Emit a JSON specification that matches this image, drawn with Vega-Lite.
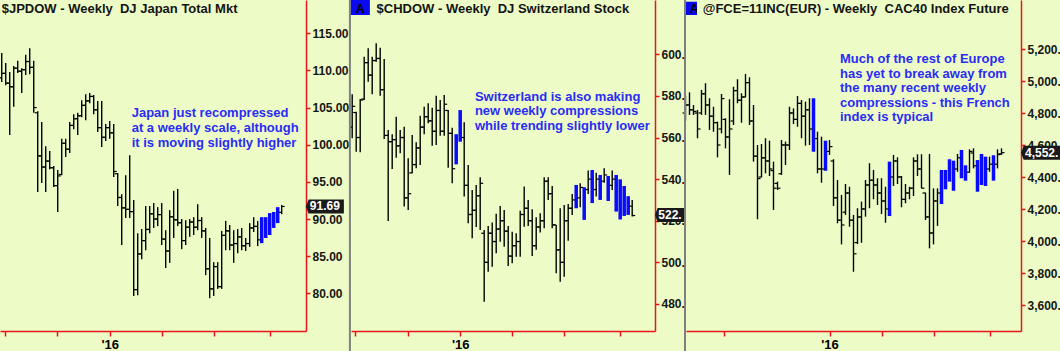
{
  "$schema": "https://vega.github.io/schema/vega-lite/v6.json",
  "width": 1021,
  "height": 331,
  "autosize": {"type": "none"},
  "padding": {"left": 0, "top": 0, "right": 39, "bottom": 20},
  "background": "#EDFCC6",
  "config": {
    "view": {"stroke": null},
    "axis": {"grid": false, "domainColor": "#e8141b", "tickColor": "#e8141b", "domainWidth": 1.5, "tickWidth": 1.5, "labelFont": "Liberation Sans", "labelFontWeight": "bold", "labelFontSize": 12, "labelColor": "#161616"},
    "text": {"font": "Liberation Sans"}
  },
  "datasets": {
    "p1": [
      {"w":-27,"h":112.35,"l":108.45,"o":109.0,"c":109.6,"b":0},
      {"w":-26,"h":111.0,"l":108.0,"o":109.6,"c":108.3,"b":0},
      {"w":-25,"h":109.8,"l":101.3,"o":108.3,"c":107.8,"b":0},
      {"w":-24,"h":110.6,"l":105.1,"o":107.8,"c":110.3,"b":0},
      {"w":-23,"h":111.3,"l":109.65,"o":110.3,"c":109.9,"b":0},
      {"w":-22,"h":110.3,"l":106.95,"o":109.9,"c":110.1,"b":0},
      {"w":-21,"h":112.1,"l":109.4,"o":110.1,"c":111.2,"b":0},
      {"w":-20,"h":113.0,"l":109.5,"o":111.2,"c":110.4,"b":0},
      {"w":-19,"h":111.3,"l":104.3,"o":110.4,"c":105.0,"b":0},
      {"w":-18,"h":104.5,"l":93.65,"o":104.3,"c":98.5,"b":0},
      {"w":-17,"h":103.05,"l":94.85,"o":98.5,"c":97.0,"b":0},
      {"w":-16,"h":99.8,"l":93.65,"o":97.0,"c":97.8,"b":0},
      {"w":-15,"h":99.15,"l":96.7,"o":97.8,"c":96.9,"b":0},
      {"w":-14,"h":97.15,"l":94.3,"o":96.9,"c":94.5,"b":0},
      {"w":-13,"h":96.6,"l":90.95,"o":94.5,"c":95.8,"b":0},
      {"w":-12,"h":100.8,"l":95.9,"o":96.0,"c":100.2,"b":0},
      {"w":-11,"h":100.8,"l":98.35,"o":100.2,"c":99.4,"b":0},
      {"w":-10,"h":103.05,"l":98.9,"o":99.4,"c":102.6,"b":0},
      {"w":-9,"h":104.1,"l":102.1,"o":102.6,"c":103.5,"b":0},
      {"w":-8,"h":104.3,"l":101.3,"o":103.5,"c":103.9,"b":0},
      {"w":-7,"h":106.0,"l":103.7,"o":103.9,"c":105.3,"b":0},
      {"w":-6,"h":106.8,"l":103.3,"o":105.3,"c":105.9,"b":0},
      {"w":-5,"h":106.95,"l":105.6,"o":105.9,"c":106.5,"b":0},
      {"w":-4,"h":106.7,"l":104.1,"o":106.5,"c":104.7,"b":0},
      {"w":-3,"h":105.9,"l":101.7,"o":104.7,"c":102.3,"b":0},
      {"w":-2,"h":105.9,"l":99.7,"o":102.3,"c":101.0,"b":0},
      {"w":-1,"h":102.8,"l":100.5,"o":101.0,"c":102.3,"b":0},
      {"w":0,"h":103.2,"l":100.8,"o":102.3,"c":101.6,"b":0},
      {"w":1,"h":102.8,"l":95.65,"o":101.6,"c":96.4,"b":0},
      {"w":2,"h":96.2,"l":91.75,"o":96.1,"c":92.9,"b":0},
      {"w":3,"h":93.35,"l":86.5,"o":92.9,"c":91.5,"b":0},
      {"w":4,"h":95.9,"l":90.15,"o":91.5,"c":91.3,"b":0},
      {"w":5,"h":98.6,"l":90.15,"o":91.3,"c":91.0,"b":0},
      {"w":6,"h":92.55,"l":79.65,"o":91.0,"c":80.5,"b":0},
      {"w":7,"h":88.1,"l":79.75,"o":80.5,"c":85.3,"b":0},
      {"w":8,"h":88.65,"l":84.6,"o":85.3,"c":87.1,"b":0},
      {"w":9,"h":91.75,"l":85.8,"o":87.1,"c":88.6,"b":0},
      {"w":10,"h":91.75,"l":88.1,"o":88.6,"c":90.7,"b":0},
      {"w":11,"h":92.15,"l":88.8,"o":90.7,"c":90.0,"b":0},
      {"w":12,"h":91.6,"l":89.05,"o":90.0,"c":90.6,"b":0},
      {"w":13,"h":92.15,"l":86.5,"o":90.6,"c":87.3,"b":0},
      {"w":14,"h":88.5,"l":83.4,"o":87.3,"c":85.7,"b":0},
      {"w":15,"h":91.2,"l":84.1,"o":85.7,"c":90.3,"b":0},
      {"w":16,"h":93.8,"l":87.45,"o":90.3,"c":89.9,"b":0},
      {"w":17,"h":94.05,"l":89.05,"o":89.9,"c":89.5,"b":0},
      {"w":18,"h":90.0,"l":85.95,"o":89.5,"c":87.1,"b":0},
      {"w":19,"h":89.85,"l":86.5,"o":87.1,"c":88.9,"b":0},
      {"w":20,"h":90.0,"l":87.6,"o":88.9,"c":89.6,"b":0},
      {"w":21,"h":90.25,"l":87.85,"o":89.6,"c":88.9,"b":0},
      {"w":22,"h":92.0,"l":88.5,"o":88.9,"c":89.8,"b":0},
      {"w":23,"h":90.25,"l":87.45,"o":89.8,"c":88.4,"b":0},
      {"w":24,"h":88.8,"l":82.45,"o":88.4,"c":83.3,"b":0},
      {"w":25,"h":87.45,"l":79.35,"o":83.3,"c":80.6,"b":0},
      {"w":26,"h":84.2,"l":79.65,"o":80.6,"c":83.6,"b":0},
      {"w":27,"h":84.2,"l":80.6,"o":83.6,"c":80.9,"b":0},
      {"w":28,"h":88.4,"l":80.6,"o":80.9,"c":87.8,"b":0},
      {"w":29,"h":89.75,"l":85.8,"o":87.8,"c":88.4,"b":0},
      {"w":30,"h":89.2,"l":85.8,"o":88.4,"c":86.5,"b":0},
      {"w":31,"h":88.5,"l":84.1,"o":86.5,"c":86.7,"b":0},
      {"w":32,"h":88.65,"l":85.4,"o":86.7,"c":87.6,"b":0},
      {"w":33,"h":88.8,"l":85.8,"o":87.6,"c":86.4,"b":0},
      {"w":34,"h":87.45,"l":85.7,"o":86.4,"c":86.7,"b":0},
      {"w":35,"h":89.45,"l":86.25,"o":86.7,"c":88.8,"b":0},
      {"w":36,"h":90.25,"l":88.25,"o":88.8,"c":89.0,"b":0},
      {"w":37,"h":89.75,"l":86.35,"o":89.0,"c":87.2,"b":0},
      {"w":38,"h":90.25,"l":86.75,"b":1},
      {"w":39,"h":90.25,"l":87.45,"b":1},
      {"w":40,"h":90.8,"l":87.85,"b":1},
      {"w":41,"h":90.95,"l":88.8,"b":1},
      {"w":42,"h":91.6,"l":89.45,"b":1},
      {"w":43,"h":91.9,"l":90.65,"o":90.9,"c":91.69,"b":0}
    ],
    "a1": [
      {"k":"title","w":-27.0,"v":117.69,"t":"$JPDOW - Weekly \u00a0DJ Japan Total Mkt"},
      {"k":"note","w":5.5,"v":103.69,"t":"Japan just recompressed"},
      {"k":"note","w":5.5,"v":101.71,"t":"at a weekly scale, although"},
      {"k":"note","w":5.5,"v":99.73,"t":"it is moving slightly higher"},
      {"k":"last","w":53.8,"v":91.69,"t":"91.69"}
    ],
    "p2": [
      {"w":-27,"h":580.8,"l":559.6,"o":565,"c":575,"b":0},
      {"w":-26,"h":572.4,"l":553.2,"o":572,"c":560,"b":0},
      {"w":-25,"h":578.5,"l":552.9,"o":560,"c":578,"b":0},
      {"w":-24,"h":598.8,"l":578.0,"o":578.5,"c":596,"b":0},
      {"w":-23,"h":602.9,"l":586.8,"o":596,"c":590,"b":0},
      {"w":-22,"h":598.8,"l":580.8,"o":590,"c":597,"b":0},
      {"w":-21,"h":605.3,"l":596.4,"o":597,"c":598,"b":0},
      {"w":-20,"h":603.2,"l":580.1,"o":598,"c":583,"b":0},
      {"w":-19,"h":597.7,"l":559.3,"o":583,"c":561,"b":0},
      {"w":-18,"h":563.6,"l":519.9,"o":561,"c":558,"b":0},
      {"w":-17,"h":561.6,"l":544.9,"o":558,"c":559,"b":0},
      {"w":-16,"h":570.0,"l":550.3,"o":559,"c":556,"b":0},
      {"w":-15,"h":563.6,"l":552.4,"o":556,"c":560,"b":0},
      {"w":-14,"h":565.2,"l":526.8,"o":560,"c":531,"b":0},
      {"w":-13,"h":550.0,"l":525.2,"o":531,"c":533,"b":0},
      {"w":-12,"h":561.2,"l":542.8,"o":543,"c":547,"b":0},
      {"w":-11,"h":557.7,"l":545.2,"o":547,"c":555,"b":0},
      {"w":-10,"h":570.5,"l":546.8,"o":555,"c":565,"b":0},
      {"w":-9,"h":574.8,"l":561.6,"o":565,"c":570,"b":0},
      {"w":-8,"h":576.5,"l":566.8,"o":570,"c":568,"b":0},
      {"w":-7,"h":574.3,"l":556.1,"o":568,"c":563,"b":0},
      {"w":-6,"h":580.1,"l":556.4,"o":563,"c":573,"b":0},
      {"w":-5,"h":578.0,"l":560.9,"o":573,"c":563,"b":0},
      {"w":-4,"h":580.4,"l":560.9,"o":563,"c":576,"b":0},
      {"w":-3,"h":573.2,"l":545.5,"o":573,"c":562,"b":0},
      {"w":-2,"h":564.7,"l":538.0,"o":562,"c":545,"b":0},
      {"w":-1,"h":561.6,"l":547.1,"b":1},
      {"w":0,"h":573.2,"l":558.0,"b":1},
      {"w":1,"h":567.3,"l":531.6,"o":560,"c":537,"b":0},
      {"w":2,"h":546.8,"l":518.8,"o":537,"c":523,"b":0},
      {"w":3,"h":534.8,"l":511.6,"o":523,"c":525,"b":0},
      {"w":4,"h":537.2,"l":517.0,"o":525,"c":532,"b":0},
      {"w":5,"h":540.9,"l":515.6,"o":532,"c":538,"b":0},
      {"w":6,"h":515.6,"l":481.1,"o":514,"c":500,"b":0},
      {"w":7,"h":517.5,"l":495.5,"o":500,"c":514,"b":0},
      {"w":8,"h":519.1,"l":497.9,"o":514,"c":510,"b":0},
      {"w":9,"h":523.3,"l":504.4,"o":510,"c":516,"b":0},
      {"w":10,"h":527.1,"l":509.9,"o":516,"c":520,"b":0},
      {"w":11,"h":525.2,"l":507.5,"o":520,"c":515,"b":0},
      {"w":12,"h":517.5,"l":498.3,"o":515,"c":503,"b":0},
      {"w":13,"h":514.7,"l":499.6,"o":503,"c":508,"b":0},
      {"w":14,"h":514.0,"l":502.7,"o":508,"c":510,"b":0},
      {"w":15,"h":524.8,"l":502.7,"o":510,"c":523,"b":0},
      {"w":16,"h":536.4,"l":517.1,"o":523,"c":526,"b":0},
      {"w":17,"h":530.0,"l":517.5,"o":526,"c":520,"b":0},
      {"w":18,"h":525.5,"l":503.1,"o":520,"c":508,"b":0},
      {"w":19,"h":521.7,"l":506.0,"o":508,"c":517,"b":0},
      {"w":20,"h":523.6,"l":514.3,"o":517,"c":520,"b":0},
      {"w":21,"h":540.9,"l":516.4,"o":520,"c":539,"b":0},
      {"w":22,"h":540.9,"l":530.0,"o":539,"c":533,"b":0},
      {"w":23,"h":536.7,"l":516.4,"o":533,"c":518,"b":0},
      {"w":24,"h":518.0,"l":494.8,"o":518,"c":506,"b":0},
      {"w":25,"h":526.0,"l":490.7,"o":506,"c":500,"b":0},
      {"w":26,"h":527.6,"l":493.1,"o":500,"c":520,"b":0},
      {"w":27,"h":528.1,"l":510.4,"o":520,"c":526,"b":0},
      {"w":28,"h":532.9,"l":522.8,"o":526,"c":530,"b":0},
      {"w":29,"h":537.2,"l":526.0,"b":1},
      {"w":30,"h":538.0,"l":526.5,"o":531,"c":536,"b":0},
      {"w":31,"h":536.1,"l":520.4,"b":1},
      {"w":32,"h":544.1,"l":532.9,"o":535,"c":540,"b":0},
      {"w":33,"h":544.4,"l":528.5,"b":1},
      {"w":34,"h":543.1,"l":531.6,"o":535,"c":540,"b":0},
      {"w":35,"h":542.0,"l":530.0,"b":1},
      {"w":36,"h":545.2,"l":538.3,"o":539,"c":542,"b":0},
      {"w":37,"h":541.5,"l":529.5,"b":1},
      {"w":38,"h":544.1,"l":534.8,"o":537,"c":540,"b":0},
      {"w":39,"h":542.0,"l":524.4,"b":1},
      {"w":40,"h":539.9,"l":520.6,"b":1},
      {"w":41,"h":536.7,"l":522.3,"b":1},
      {"w":42,"h":531.8,"l":522.8,"b":1},
      {"w":43,"h":530.0,"l":522.0,"o":527,"c":522.5,"b":0}
    ],
    "a2": [
      {"k":"sep","w":-27.575,"v":626.1,"v2":457.4},
      {"k":"box","w":-27.33,"w2":-22.58,"v":626.1,"v2":618.9},
      {"k":"A","w":-24.95,"v":619.9,"t":"A"},
      {"k":"title","w":-20.9,"v":619.7,"t":"$CHDOW - Weekly \u00a0DJ Switzerland Stock"},
      {"k":"note","w":3.675,"v":577.7,"t":"Switzerland is also making"},
      {"k":"note","w":3.675,"v":570.8,"t":"new weekly compressions"},
      {"k":"note","w":3.675,"v":563.6,"t":"while trending slightly lower"},
      {"k":"last","w":52.45,"v":522.8,"t":"522."}
    ],
    "p3": [
      {"w":-36,"h":4906,"l":4752,"o":4800,"c":4850,"b":0},
      {"w":-35,"h":4929,"l":4788,"o":4850,"c":4820,"b":0},
      {"w":-34,"h":4850,"l":4788,"o":4820,"c":4810,"b":0},
      {"w":-33,"h":4819,"l":4642,"o":4800,"c":4700,"b":0},
      {"w":-32,"h":4944,"l":4788,"o":4800,"c":4920,"b":0},
      {"w":-31,"h":4986,"l":4788,"o":4920,"c":4850,"b":0},
      {"w":-30,"h":4892,"l":4694,"o":4850,"c":4780,"b":0},
      {"w":-29,"h":4839,"l":4683,"o":4780,"c":4740,"b":0},
      {"w":-28,"h":4746,"l":4523,"o":4740,"c":4600,"b":0},
      {"w":-27,"h":4919,"l":4673,"o":4700,"c":4890,"b":0},
      {"w":-26,"h":4767,"l":4579,"o":4760,"c":4650,"b":0},
      {"w":-25,"h":4886,"l":4413,"o":4650,"c":4700,"b":0},
      {"w":-24,"h":4964,"l":4725,"o":4750,"c":4940,"b":0},
      {"w":-23,"h":5011,"l":4861,"o":4940,"c":4880,"b":0},
      {"w":-22,"h":4923,"l":4739,"o":4880,"c":4900,"b":0},
      {"w":-21,"h":5044,"l":4898,"o":4900,"c":4990,"b":0},
      {"w":-20,"h":5023,"l":4725,"o":4990,"c":4750,"b":0},
      {"w":-19,"h":4850,"l":4496,"o":4750,"c":4530,"b":0},
      {"w":-18,"h":4600,"l":4136,"o":4530,"c":4390,"b":0},
      {"w":-17,"h":4606,"l":4398,"o":4400,"c":4520,"b":0},
      {"w":-16,"h":4642,"l":4423,"o":4520,"c":4500,"b":0},
      {"w":-15,"h":4627,"l":4406,"o":4500,"c":4450,"b":0},
      {"w":-14,"h":4496,"l":4194,"o":4440,"c":4330,"b":0},
      {"w":-13,"h":4371,"l":4319,"o":4360,"c":4330,"b":0},
      {"w":-12,"h":4631,"l":4413,"o":4420,"c":4600,"b":0},
      {"w":-11,"h":4621,"l":4475,"o":4600,"c":4600,"b":0},
      {"w":-10,"h":4839,"l":4569,"o":4600,"c":4800,"b":0},
      {"w":-9,"h":4829,"l":4731,"o":4800,"c":4760,"b":0},
      {"w":-8,"h":4906,"l":4714,"o":4760,"c":4860,"b":0},
      {"w":-7,"h":4881,"l":4642,"o":4860,"c":4780,"b":0},
      {"w":-6,"h":4871,"l":4596,"o":4780,"c":4820,"b":0},
      {"w":-5,"h":4892,"l":4600,"o":4820,"c":4700,"b":0},
      {"w":-4,"h":4892,"l":4558,"b":1},
      {"w":-3,"h":4683,"l":4423,"o":4640,"c":4450,"b":0},
      {"w":-2,"h":4652,"l":4364,"o":4450,"c":4450,"b":0},
      {"w":-1,"h":4627,"l":4439,"b":1},
      {"w":0,"h":4631,"l":4538,"o":4560,"c":4590,"b":0},
      {"w":1,"h":4511,"l":4219,"o":4500,"c":4270,"b":0},
      {"w":2,"h":4381,"l":4111,"o":4270,"c":4130,"b":0},
      {"w":3,"h":4288,"l":3979,"o":4130,"c":4100,"b":0},
      {"w":4,"h":4356,"l":4163,"o":4180,"c":4300,"b":0},
      {"w":5,"h":4339,"l":4089,"o":4300,"c":4130,"b":0},
      {"w":6,"h":4163,"l":3808,"o":4130,"c":3920,"b":0},
      {"w":7,"h":4205,"l":3981,"o":3990,"c":4150,"b":0},
      {"w":8,"h":4246,"l":3989,"o":4150,"c":4200,"b":0},
      {"w":9,"h":4381,"l":4152,"o":4200,"c":4350,"b":0},
      {"w":10,"h":4486,"l":4205,"o":4350,"c":4380,"b":0},
      {"w":11,"h":4444,"l":4261,"o":4380,"c":4350,"b":0},
      {"w":12,"h":4392,"l":4225,"o":4350,"c":4300,"b":0},
      {"w":13,"h":4392,"l":4169,"o":4300,"c":4250,"b":0},
      {"w":14,"h":4339,"l":4114,"o":4250,"c":4200,"b":0},
      {"w":15,"h":4496,"l":4156,"b":1},
      {"w":16,"h":4538,"l":4344,"o":4400,"c":4500,"b":0},
      {"w":17,"h":4523,"l":4356,"o":4500,"c":4400,"b":0},
      {"w":18,"h":4406,"l":4211,"o":4400,"c":4260,"b":0},
      {"w":19,"h":4356,"l":4236,"o":4260,"c":4300,"b":0},
      {"w":20,"h":4339,"l":4261,"o":4300,"c":4330,"b":0},
      {"w":21,"h":4523,"l":4281,"o":4330,"c":4500,"b":0},
      {"w":22,"h":4542,"l":4406,"o":4500,"c":4450,"b":0},
      {"w":23,"h":4542,"l":4329,"o":4450,"c":4330,"b":0},
      {"w":24,"h":4302,"l":4131,"o":4300,"c":4150,"b":0},
      {"w":25,"h":4544,"l":3954,"o":4150,"c":4050,"b":0},
      {"w":26,"h":4329,"l":3979,"o":4050,"c":4250,"b":0},
      {"w":27,"h":4329,"l":4094,"o":4250,"c":4300,"b":0},
      {"w":28,"h":4444,"l":4231,"b":1},
      {"w":29,"h":4444,"l":4323,"b":1},
      {"w":30,"h":4511,"l":4371,"b":1},
      {"w":31,"h":4502,"l":4314,"b":1},
      {"w":32,"h":4544,"l":4433,"o":4450,"c":4520,"b":0},
      {"w":33,"h":4569,"l":4392,"b":1},
      {"w":34,"h":4473,"l":4377,"b":1},
      {"w":35,"h":4573,"l":4427,"o":4430,"c":4560,"b":0},
      {"w":36,"h":4579,"l":4454,"o":4550,"c":4470,"b":0},
      {"w":37,"h":4506,"l":4308,"b":1},
      {"w":38,"h":4544,"l":4350,"b":1},
      {"w":39,"h":4527,"l":4344,"b":1},
      {"w":40,"h":4527,"l":4433,"o":4450,"c":4480,"b":0},
      {"w":41,"h":4536,"l":4377,"b":1},
      {"w":42,"h":4573,"l":4454,"o":4480,"c":4540,"b":0},
      {"w":43,"h":4579,"l":4538,"o":4545,"c":4552,"b":0}
    ],
    "a3": [
      {"k":"sep","w":-36.125,"v":5506.25,"v2":3312.5},
      {"k":"box","w":-35.875,"w2":-33.125,"v":5495.6,"v2":5412.5},
      {"k":"A","w":-33.8,"v":5423.1,"t":"A"},
      {"k":"mask","w":-33.125,"w2":46.375,"v":5506.25,"v2":5406.25},
      {"k":"title","w":-31.7,"v":5423.1,"t":"@FCE=11INC(EUR) - Weekly \u00a0CAC40 Index Futures"},
      {"k":"note","w":2.625,"v":5110.6,"t":"Much of the rest of Europe"},
      {"k":"note","w":2.625,"v":5020,"t":"has yet to break away from"},
      {"k":"note","w":2.625,"v":4929.4,"t":"the many recent weekly"},
      {"k":"note","w":2.625,"v":4838.75,"t":"compressions - this French"},
      {"k":"note","w":2.625,"v":4748.1,"t":"index is typical"},
      {"k":"lastbox","w":53.375,"v":4552,"t":""},
      {"k":"last","w":48.875,"v":4552,"t":"4,552."}
    ]
  },
  "resolve": {"scale": {"x": "independent", "y": "independent"}},
  "layer": [
    {
      "data": {"name": "p1"},
      "encoding": {
        "x": {"field": "w", "type": "quantitative", "title": null,
          "scale": {"domain": [-27.43, 49.08], "range": [0, 306], "zero": false, "nice": false},
          "axis": {"orient": "bottom", "values": [-26.3, -13.1, 0, 13, 26, 40], "labelExpr": "datum.value == 0 ? \"'16\" : ''", "tickSize": 5, "labelPadding": 2, "labelOverlap": false, "labelColor": "#000", "labelFontSize": 13}}
      },
      "layer": [
        {"transform": [{"filter": "datum.b == 0"}],
         "mark": {"type": "rule", "color": "#000", "strokeWidth": 1.4},
         "encoding": {
           "y": {"field": "h", "type": "quantitative", "title": null, "scale": {"domain": [74.93, 119.48], "zero": false, "nice": false},
             "axis": {"orient": "right", "offset": -715, "values": [80, 85, 90, 95, 100, 105, 110, 115], "format": ".2f", "tickSize": 4, "labelPadding": 2}},
           "y2": {"field": "l"}}},
        {"transform": [{"filter": "datum.b == 1"}],
         "mark": {"type": "rule", "color": "#0a0aff", "strokeWidth": 3.5},
         "encoding": {"y": {"field": "h", "type": "quantitative", "title": null, "scale": {"domain": [74.93, 119.48], "zero": false, "nice": false}}, "y2": {"field": "l"}}},
        {"mark": {"type": "tick", "orient": "horizontal", "size": 3, "thickness": 1.2, "xOffset": -1.5, "color": "#000", "opacity": 1},
         "encoding": {"y": {"field": "o", "type": "quantitative", "title": null, "scale": {"domain": [74.93, 119.48], "zero": false, "nice": false}}}},
        {"mark": {"type": "tick", "orient": "horizontal", "size": 3, "thickness": 1.2, "xOffset": 1.5, "color": "#000", "opacity": 1},
         "encoding": {"y": {"field": "c", "type": "quantitative", "title": null, "scale": {"domain": [74.93, 119.48], "zero": false, "nice": false}}}},
        {"data": {"name": "a1"}, "transform": [{"filter": "datum.k == 'title'"}],
         "mark": {"type": "text", "align": "left", "baseline": "alphabetic", "fontSize": 13, "fontWeight": "bold", "color": "#141414"},
         "encoding": {"y": {"field": "v", "type": "quantitative", "title": null, "scale": {"domain": [74.93, 119.48], "zero": false, "nice": false}}, "text": {"field": "t"}}},
        {"data": {"name": "a1"}, "transform": [{"filter": "datum.k == 'note'"}],
         "mark": {"type": "text", "align": "left", "baseline": "alphabetic", "fontSize": 13, "fontWeight": "bold", "color": "#2b2bf5"},
         "encoding": {"y": {"field": "v", "type": "quantitative", "title": null, "scale": {"domain": [74.93, 119.48], "zero": false, "nice": false}}, "text": {"field": "t"}}},
        {"data": {"name": "a1"}, "transform": [{"filter": "datum.k == 'last'"}],
         "mark": {"type": "point", "shape": "M-1,0L-0.86,-0.37L1,-0.37L1,0.37L-0.86,0.37Z", "size": 1444, "filled": true, "color": "#1a1a1a", "opacity": 1},
         "encoding": {"y": {"field": "v", "type": "quantitative", "title": null, "scale": {"domain": [74.93, 119.48], "zero": false, "nice": false}}}},
        {"data": {"name": "a1"}, "transform": [{"filter": "datum.k == 'last'"}],
         "mark": {"type": "text", "align": "center", "baseline": "middle", "fontSize": 12, "fontWeight": "bold", "color": "#ffffff"},
         "encoding": {"y": {"field": "v", "type": "quantitative", "title": null, "scale": {"domain": [74.93, 119.48], "zero": false, "nice": false}}, "text": {"field": "t"}}}
      ]
    },
    {
      "data": {"name": "p2"},
      "encoding": {
        "x": {"field": "w", "type": "quantitative", "title": null,
          "scale": {"domain": [-27.3, 48.7], "range": [351, 655], "zero": false, "nice": false},
          "axis": {"orient": "bottom", "values": [-26.3, -13.1, 0, 13, 26, 40], "labelExpr": "datum.value == 0 ? \"'16\" : ''", "tickSize": 5, "labelPadding": 2, "labelOverlap": false, "labelColor": "#000", "labelFontSize": 13}}
      },
      "layer": [
        {"transform": [{"filter": "datum.b == 0"}],
         "mark": {"type": "rule", "color": "#000", "strokeWidth": 1.4},
         "encoding": {
           "y": {"field": "h", "type": "quantitative", "title": null, "scale": {"domain": [467.0, 626.1], "zero": false, "nice": false},
             "axis": {"orient": "right", "offset": -366, "values": [480, 500, 520, 540, 560, 580, 600], "labelExpr": "format(datum.value, '.0f') + '.'", "tickSize": 4, "labelPadding": 2}},
           "y2": {"field": "l"}}},
        {"transform": [{"filter": "datum.b == 1"}],
         "mark": {"type": "rule", "color": "#0a0aff", "strokeWidth": 3.5},
         "encoding": {"y": {"field": "h", "type": "quantitative", "title": null, "scale": {"domain": [467.0, 626.1], "zero": false, "nice": false}}, "y2": {"field": "l"}}},
        {"mark": {"type": "tick", "orient": "horizontal", "size": 3, "thickness": 1.2, "xOffset": -1.5, "color": "#000", "opacity": 1},
         "encoding": {"y": {"field": "o", "type": "quantitative", "title": null, "scale": {"domain": [467.0, 626.1], "zero": false, "nice": false}}}},
        {"mark": {"type": "tick", "orient": "horizontal", "size": 3, "thickness": 1.2, "xOffset": 1.5, "color": "#000", "opacity": 1},
         "encoding": {"y": {"field": "c", "type": "quantitative", "title": null, "scale": {"domain": [467.0, 626.1], "zero": false, "nice": false}}}},
        {"data": {"name": "a2"}, "transform": [{"filter": "datum.k == 'sep'"}],
         "mark": {"type": "rule", "color": "#808080", "strokeWidth": 2},
         "encoding": {"y": {"field": "v", "type": "quantitative", "title": null, "scale": {"domain": [467.0, 626.1], "zero": false, "nice": false}}, "y2": {"field": "v2"}}},
        {"data": {"name": "a2"}, "transform": [{"filter": "datum.k == 'box'"}],
         "mark": {"type": "rect", "color": "#0a0af0"},
         "encoding": {"x2": {"field": "w2"}, "y": {"field": "v", "type": "quantitative", "title": null, "scale": {"domain": [467.0, 626.1], "zero": false, "nice": false}}, "y2": {"field": "v2"}}},
        {"data": {"name": "a2"}, "transform": [{"filter": "datum.k == 'A'"}],
         "mark": {"type": "text", "align": "center", "baseline": "alphabetic", "fontSize": 12, "fontWeight": "bold", "color": "#000"},
         "encoding": {"y": {"field": "v", "type": "quantitative", "title": null, "scale": {"domain": [467.0, 626.1], "zero": false, "nice": false}}, "text": {"field": "t"}}},
        {"data": {"name": "a2"}, "transform": [{"filter": "datum.k == 'title'"}],
         "mark": {"type": "text", "align": "left", "baseline": "alphabetic", "fontSize": 13, "fontWeight": "bold", "color": "#141414"},
         "encoding": {"y": {"field": "v", "type": "quantitative", "title": null, "scale": {"domain": [467.0, 626.1], "zero": false, "nice": false}}, "text": {"field": "t"}}},
        {"data": {"name": "a2"}, "transform": [{"filter": "datum.k == 'note'"}],
         "mark": {"type": "text", "align": "left", "baseline": "alphabetic", "fontSize": 13, "fontWeight": "bold", "color": "#2b2bf5"},
         "encoding": {"y": {"field": "v", "type": "quantitative", "title": null, "scale": {"domain": [467.0, 626.1], "zero": false, "nice": false}}, "text": {"field": "t"}}},
        {"data": {"name": "a2"}, "transform": [{"filter": "datum.k == 'last'"}],
         "mark": {"type": "point", "shape": "M-1,0L-0.83,-0.467L1,-0.467L1,0.467L-0.83,0.467Z", "size": 900, "filled": true, "color": "#1a1a1a", "opacity": 1},
         "encoding": {"y": {"field": "v", "type": "quantitative", "title": null, "scale": {"domain": [467.0, 626.1], "zero": false, "nice": false}}}},
        {"data": {"name": "a2"}, "transform": [{"filter": "datum.k == 'last'"}],
         "mark": {"type": "text", "align": "center", "baseline": "middle", "fontSize": 12, "fontWeight": "bold", "color": "#ffffff"},
         "encoding": {"y": {"field": "v", "type": "quantitative", "title": null, "scale": {"domain": [467.0, 626.1], "zero": false, "nice": false}}, "text": {"field": "t"}}}
      ]
    },
    {
      "data": {"name": "p3"},
      "encoding": {
        "x": {"field": "w", "type": "quantitative", "title": null,
          "scale": {"domain": [-35.875, 47.875], "range": [686, 1021], "zero": false, "nice": false},
          "axis": {"orient": "bottom", "values": [-26.3, 0, 13, 26, 40], "labelExpr": "datum.value == 0 ? \"'16\" : ''", "tickSize": 5, "labelPadding": 2, "labelOverlap": false, "labelColor": "#000", "labelFontSize": 13}}
      },
      "layer": [
        {"transform": [{"filter": "datum.b == 0"}],
         "mark": {"type": "rule", "color": "#000", "strokeWidth": 1.4},
         "encoding": {
           "y": {"field": "h", "type": "quantitative", "title": null, "scale": {"domain": [3437.5, 5506.25], "zero": false, "nice": false},
             "axis": {"orient": "right", "offset": 0, "values": [3600, 3800, 4000, 4200, 4400, 4600, 4800, 5000, 5200], "labelExpr": "format(datum.value, ',') + '.'", "tickSize": 4, "labelPadding": 2}},
           "y2": {"field": "l"}}},
        {"transform": [{"filter": "datum.b == 1"}],
         "mark": {"type": "rule", "color": "#0a0aff", "strokeWidth": 3.5},
         "encoding": {"y": {"field": "h", "type": "quantitative", "title": null, "scale": {"domain": [3437.5, 5506.25], "zero": false, "nice": false}}, "y2": {"field": "l"}}},
        {"mark": {"type": "tick", "orient": "horizontal", "size": 3, "thickness": 1.2, "xOffset": -1.5, "color": "#000", "opacity": 1},
         "encoding": {"y": {"field": "o", "type": "quantitative", "title": null, "scale": {"domain": [3437.5, 5506.25], "zero": false, "nice": false}}}},
        {"mark": {"type": "tick", "orient": "horizontal", "size": 3, "thickness": 1.2, "xOffset": 1.5, "color": "#000", "opacity": 1},
         "encoding": {"y": {"field": "c", "type": "quantitative", "title": null, "scale": {"domain": [3437.5, 5506.25], "zero": false, "nice": false}}}},
        {"data": {"name": "a3"}, "transform": [{"filter": "datum.k == 'sep'"}],
         "mark": {"type": "rule", "color": "#808080", "strokeWidth": 2},
         "encoding": {"y": {"field": "v", "type": "quantitative", "title": null, "scale": {"domain": [3437.5, 5506.25], "zero": false, "nice": false}}, "y2": {"field": "v2"}}},
        {"data": {"name": "a3"}, "transform": [{"filter": "datum.k == 'box'"}],
         "mark": {"type": "rect", "color": "#0a0af0"},
         "encoding": {"x2": {"field": "w2"}, "y": {"field": "v", "type": "quantitative", "title": null, "scale": {"domain": [3437.5, 5506.25], "zero": false, "nice": false}}, "y2": {"field": "v2"}}},
        {"data": {"name": "a3"}, "transform": [{"filter": "datum.k == 'A'"}],
         "mark": {"type": "text", "align": "center", "baseline": "alphabetic", "fontSize": 12, "fontWeight": "bold", "color": "#000"},
         "encoding": {"y": {"field": "v", "type": "quantitative", "title": null, "scale": {"domain": [3437.5, 5506.25], "zero": false, "nice": false}}, "text": {"field": "t"}}},
        {"data": {"name": "a3"}, "transform": [{"filter": "datum.k == 'mask'"}],
         "mark": {"type": "rect", "color": "#EDFCC6"},
         "encoding": {"x2": {"field": "w2"}, "y": {"field": "v", "type": "quantitative", "title": null, "scale": {"domain": [3437.5, 5506.25], "zero": false, "nice": false}}, "y2": {"field": "v2"}}},
        {"data": {"name": "a3"}, "transform": [{"filter": "datum.k == 'title'"}],
         "mark": {"type": "text", "align": "left", "baseline": "alphabetic", "fontSize": 13, "fontWeight": "bold", "color": "#141414", "limit": 310, "ellipsis": " "},
         "encoding": {"y": {"field": "v", "type": "quantitative", "title": null, "scale": {"domain": [3437.5, 5506.25], "zero": false, "nice": false}}, "text": {"field": "t"}}},
        {"data": {"name": "a3"}, "transform": [{"filter": "datum.k == 'note'"}],
         "mark": {"type": "text", "align": "left", "baseline": "alphabetic", "fontSize": 13, "fontWeight": "bold", "color": "#2b2bf5"},
         "encoding": {"y": {"field": "v", "type": "quantitative", "title": null, "scale": {"domain": [3437.5, 5506.25], "zero": false, "nice": false}}, "text": {"field": "t"}}},
        {"data": {"name": "a3"}, "transform": [{"filter": "datum.k == 'lastbox'"}],
         "mark": {"type": "point", "shape": "M-1,0L-0.88,-0.318L1,-0.318L1,0.318L-0.88,0.318Z", "size": 1936, "filled": true, "color": "#1a1a1a", "opacity": 1},
         "encoding": {"y": {"field": "v", "type": "quantitative", "title": null, "scale": {"domain": [3437.5, 5506.25], "zero": false, "nice": false}}}},
        {"data": {"name": "a3"}, "transform": [{"filter": "datum.k == 'last'"}],
         "mark": {"type": "text", "align": "left", "baseline": "middle", "fontSize": 12, "fontWeight": "bold", "color": "#ffffff"},
         "encoding": {"y": {"field": "v", "type": "quantitative", "title": null, "scale": {"domain": [3437.5, 5506.25], "zero": false, "nice": false}}, "text": {"field": "t"}}}
      ]
    }
  ]
}
